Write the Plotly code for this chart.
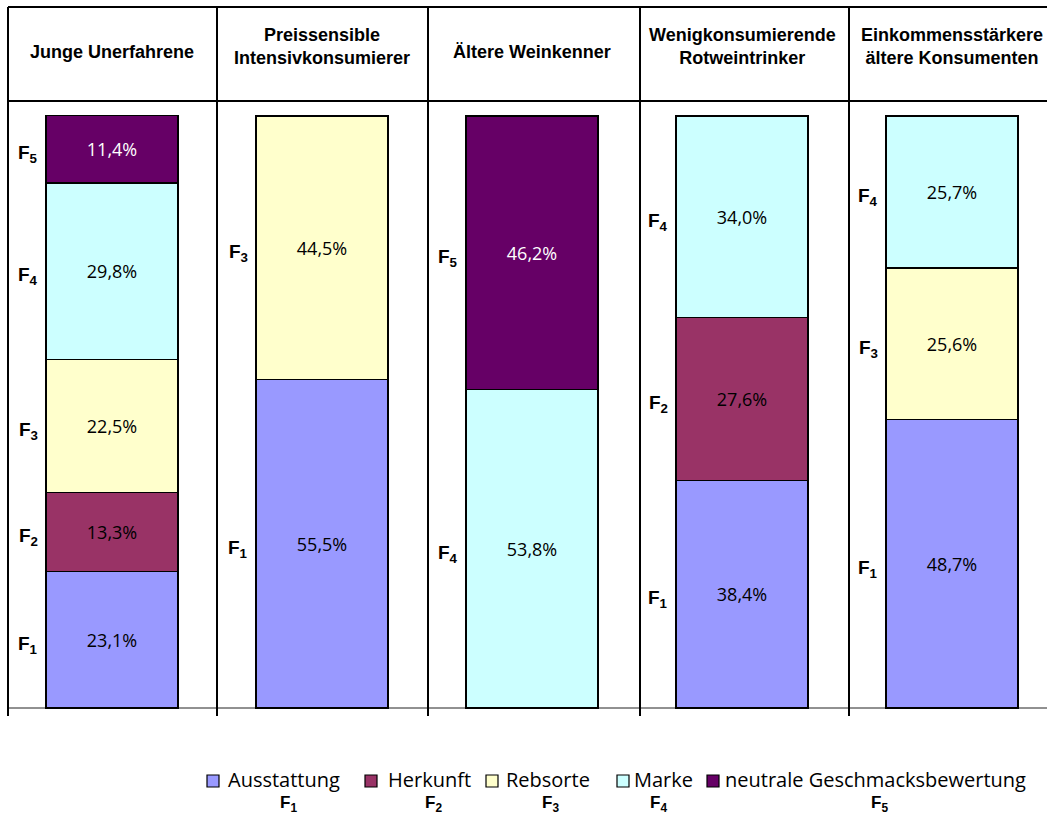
import plotly.graph_objects as go

W, H = 1047, 815

groups = ["Junge Unerfahrene", "Preissensible<br>Intensivkonsumierer", "Ältere Weinkenner",
          "Wenigkonsumierende<br>Rotweintrinker", "Einkommensstärkere<br>ältere Konsumenten"]
factor_names = ["Ausstattung", "Herkunft", "Rebsorte", "Marke", "neutrale Geschmacksbewertung"]
factor_tags = ["F<sub>1</sub>", "F<sub>2</sub>", "F<sub>3</sub>", "F<sub>4</sub>", "F<sub>5</sub>"]
colors = ["#9999FF", "#993366", "#FFFFCC", "#CCFFFF", "#660066"]
text_colors = ["black", "black", "black", "black", "white"]

F1 = [23.1, 55.5, None, 38.4, 48.7]
F2 = [13.3, None, None, 27.6, None]
F3 = [22.5, 44.5, None, None, 25.6]
F4 = [29.8, None, 53.8, 34.0, 25.7]
F5 = [11.4, None, 46.2, None, None]
series = [F1, F2, F3, F4, F5]

# pixel helpers for layout (not data)
def px(x):
    return x / W
def py(y):
    return 1 - y / H

xs = list(range(len(groups)))
bar_w = 0.63
x_range = [-0.5 - 7 / 210, -0.5 + (W - 7) / 210]
unit = 5.92  # px per percent
y_range = [-(H - 708) / unit, 708 / unit]

fig = go.Figure()
for i, vals in enumerate(series):
    px_x = [g for g, v in zip(xs, vals) if v is not None]
    px_y = [v for v in vals if v is not None]
    fig.add_trace(go.Bar(
        x=px_x, y=px_y, width=bar_w, name=factor_names[i],
        marker=dict(color=colors[i], line=dict(color="black", width=1.5)),
        texttemplate="%{y:.1f}%", textposition="inside", insidetextanchor="middle",
        textangle=0, constraintext="none",
        textfont=dict(family="Open Sans", size=18, color=text_colors[i]),
        showlegend=False, hoverinfo="skip",
    ))

annotations = []
# F labels beside bar segments
for g in xs:
    base = 0.0
    for i, vals in enumerate(series):
        v = vals[g]
        if v is None:
            continue
        annotations.append(dict(
            x=g - bar_w / 2, y=base + v / 2, xref="x", yref="y",
            text="<b>" + factor_tags[i] + "</b>",
            showarrow=False, xanchor="right", yanchor="middle", xshift=-6, yshift=-5,
            font=dict(family="Liberation Sans", size=19, color="black"),
        ))
        base += v

# header texts
for g, label in enumerate(groups):
    ypix = 46 if "<br>" in label else 52
    annotations.append(dict(
        x=g, y=py(ypix), xref="x", yref="paper", text="<b>" + label + "</b>",
        showarrow=False, xanchor="center", yanchor="middle",
        font=dict(family="Liberation Sans", size=18, color="black"),
    ))

# manual legend
sq_left = [207, 365, 486, 617, 707]
txt_left = [226, 386, 504, 632, 723]
tag_center = [288, 433, 550, 658, 879]
shapes = []
for i in range(5):
    shapes.append(dict(type="rect", xref="paper", yref="paper",
                       x0=px(sq_left[i]), x1=px(sq_left[i] + 12), y0=py(787), y1=py(775),
                       fillcolor=colors[i], line=dict(color="black", width=1.2)))
    annotations.append(dict(x=px(txt_left[i]), y=py(779), xref="paper", yref="paper",
                            text=factor_names[i], showarrow=False, xanchor="left", yanchor="middle",
                            font=dict(family="Open Sans", size=20, color="black")))
    annotations.append(dict(x=px(tag_center[i]), y=py(804), xref="paper", yref="paper",
                            text="<b>" + factor_tags[i] + "</b>", showarrow=False,
                            xanchor="center", yanchor="middle",
                            font=dict(family="Liberation Sans", size=17, color="black")))

# table lines
for yy in [7, 101]:
    shapes.append(dict(type="line", xref="paper", yref="paper", x0=px(8), x1=1,
                       y0=py(yy), y1=py(yy), line=dict(color="black", width=2)))
shapes.append(dict(type="line", xref="paper", yref="y", x0=px(8), x1=1, y0=0, y1=0,
                   line=dict(color="#222222", width=1), layer="below"))
sep_px = [8, 217, 428, 640, 849]
for s in sep_px:
    shapes.append(dict(type="line", xref="paper", yref="paper", x0=px(s), x1=px(s),
                       y0=py(716), y1=py(7), line=dict(color="black", width=2)))

fig.update_layout(
    width=W, height=H, barmode="stack", separators=",.",
    margin=dict(l=0, r=0, t=0, b=0),
    paper_bgcolor="white", plot_bgcolor="white",
    xaxis=dict(range=x_range, domain=[0, 1], visible=False, fixedrange=True),
    yaxis=dict(range=y_range, domain=[0, 1], visible=False, fixedrange=True),
    annotations=annotations, shapes=shapes,
)

fig.write_html("out.html")
